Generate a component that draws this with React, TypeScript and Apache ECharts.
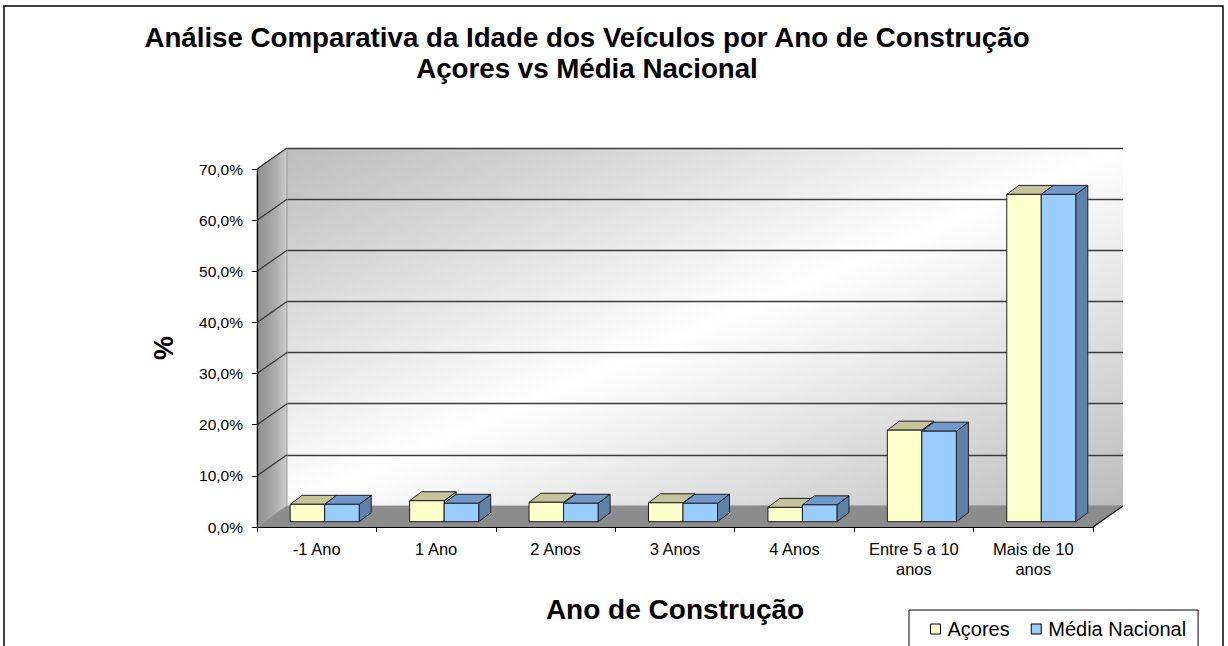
import React, { useEffect, useRef } from "react";
import * as echarts from "echarts";

const categories = ["-1 Ano", "1 Ano", "2 Anos", "3 Anos", "4 Anos", "Entre 5 a 10\nanos", "Mais de 10\nanos"];
const acores = [3.4, 4.1, 3.8, 3.7, 2.8, 17.9, 64.0];
const mediaNacional = [3.4, 3.6, 3.6, 3.6, 3.3, 17.7, 64.0];
const yTicks = [0, 10, 20, 30, 40, 50, 60, 70];
const seriesNames = ["Açores", "Média Nacional"];

const FONT = "'Liberation Sans', Arial, sans-serif";
// 3D projection helpers (layout)
const DEPTH_DX = 30;
const DEPTH_DY = -21;
const PLANE_DX = 8;
const PLANE_DY = -5.3;
const BAR_DX = 12;
const BAR_DY = -9;
const EDGE = "#1e1e1e";

const palettes = [
  { front: "#FFFFCC", top: "#C4C39B", side: "#A3A27F" },
  { front: "#99CCFF", top: "#7099C9", side: "#5F80A8" },
];

function barRenderer(sIdx: number) {
  const pal = palettes[sIdx];
  return (params: any, api: any) => {
    const i = api.value(0);
    const v = api.value(1);
    const base = api.coord([i, 0]);
    const topP = api.coord([i, v]);
    const band = api.size([1, 0])[0];
    const bw = band * 0.289;
    const cx = base[0] + PLANE_DX;
    const xl = cx - bw + sIdx * bw;
    const xr = xl + bw;
    const yb = base[1] + PLANE_DY;
    const yt = topP[1] + PLANE_DY;
    const st = { stroke: EDGE, lineWidth: 1 };
    return {
      type: "group",
      children: [
        {
          type: "polygon",
          shape: { points: [[xr, yt], [xr + BAR_DX, yt + BAR_DY], [xr + BAR_DX, yb + BAR_DY], [xr, yb]] },
          style: { fill: pal.side, ...st },
        },
        {
          type: "polygon",
          shape: { points: [[xl, yt], [xl + BAR_DX, yt + BAR_DY], [xr + BAR_DX, yt + BAR_DY], [xr, yt]] },
          style: { fill: pal.top, ...st },
        },
        {
          type: "rect",
          shape: { x: xl, y: yt, width: bw, height: yb - yt },
          style: { fill: pal.front, ...st },
        },
      ],
    };
  };
}

function frameRenderer(params: any, api: any) {
  const cs = params.coordSys;
  const v = api.value(0);
  const y = api.coord([0, v])[1];
  const x0 = cs.x;
  const children: any[] = [];
  if (params.dataIndex === 0) {
    const yTop = cs.y;
    const yBot = cs.y + cs.height;
    children.push({
      type: "polygon",
      shape: { points: [[x0, yTop], [x0 + DEPTH_DX, yTop + DEPTH_DY], [x0 + DEPTH_DX, yBot + DEPTH_DY], [x0, yBot]] },
      style: {
        fill: new echarts.graphic.LinearGradient(0, 0, 1, 0, [
          { offset: 0, color: "#8e8e8e" },
          { offset: 0.6, color: "#ababab" },
          { offset: 1, color: "#cdcdcd" },
        ]),
        stroke: "#9a9a9a",
        lineWidth: 1,
      },
    });
    children.push({
      type: "polygon",
      shape: {
        points: [
          [x0, yBot],
          [x0 + DEPTH_DX, yBot + DEPTH_DY],
          [x0 + cs.width + DEPTH_DX, yBot + DEPTH_DY],
          [x0 + cs.width, yBot],
        ],
      },
      style: { fill: "#8c8c8c", stroke: "none" },
    });
    children.push({
      type: "line",
      shape: { x1: x0 + cs.width, y1: yBot, x2: x0 + cs.width + DEPTH_DX, y2: yBot + DEPTH_DY },
      style: { stroke: "#111", lineWidth: 1.2 },
    });
  } else {
    children.push({
      type: "line",
      shape: { x1: x0, y1: y, x2: x0 + DEPTH_DX, y2: y + DEPTH_DY },
      style: { stroke: "#333", lineWidth: 1.2 },
    });
  }
  return { type: "group", children };
}

export default function App() {
  const ref = useRef<HTMLDivElement>(null);
  useEffect(() => {
    if (!ref.current) return;
    const chart = echarts.init(ref.current, undefined, { renderer: "svg" });
    const front = { left: 257, top: 169, width: 836, height: 358 };
    chart.setOption({
      animation: false,
      backgroundColor: "#ffffff",
      textStyle: { fontFamily: FONT },
      title: {
        text: "Análise Comparativa da Idade dos Veículos por Ano de Construção\nAçores vs Média Nacional",
        left: 587,
        textAlign: "center",
        top: 22,
        padding: 0,
        textStyle: { fontFamily: FONT, fontSize: 27.7, fontWeight: "bold", lineHeight: 31, color: "#000" },
      },
      legend: {
        left: 909,
        top: 610,
        orient: "horizontal",
        padding: [9, 12, 9, 21],
        borderColor: "#000",
        borderWidth: 1,
        backgroundColor: "#fff",
        itemWidth: 10,
        itemHeight: 10,
        itemGap: 21,
        icon: "rect",
        textStyle: { fontFamily: FONT, fontSize: 20, color: "#000", padding: [0, 0, 0, 2] },
        data: [
          { name: seriesNames[0], itemStyle: { color: palettes[0].front, borderColor: "#000", borderWidth: 1 } },
          { name: seriesNames[1], itemStyle: { color: palettes[1].front, borderColor: "#000", borderWidth: 1 } },
        ],
      },
      grid: [
        { ...front },
        {
          left: front.left + DEPTH_DX,
          top: front.top + DEPTH_DY,
          width: front.width,
          height: front.height,
          show: true,
          borderWidth: 0,
          backgroundColor: new echarts.graphic.LinearGradient(0, 0, 1, 1, [
            { offset: 0, color: "#bdbdbd" },
            { offset: 0.5, color: "#ffffff" },
            { offset: 1, color: "#bcbcbc" },
          ]),
        },
      ],
      xAxis: [
        {
          type: "category",
          gridIndex: 0,
          data: categories,
          axisLine: { lineStyle: { color: "#000", width: 1.2 } },
          axisTick: { show: true, length: 5, lineStyle: { color: "#000" } },
          axisLabel: { color: "#000", fontFamily: FONT, fontSize: 16.5, lineHeight: 20, margin: 12, interval: 0 },
          name: "Ano de Construção",
          nameLocation: "middle",
          nameGap: 68,
          nameTextStyle: { fontFamily: FONT, fontSize: 28, fontWeight: "bold", color: "#000" },
          z: 10,
        },
        {
          type: "category",
          gridIndex: 1,
          data: categories,
          show: false,
        },
      ],
      yAxis: [
        {
          type: "value",
          gridIndex: 0,
          min: 0,
          max: 70,
          interval: 10,
          axisLine: { show: true, lineStyle: { color: "#000", width: 1.2 } },
          axisTick: { show: true, length: 5, lineStyle: { color: "#000" } },
          splitLine: { show: false },
          axisLabel: {
            color: "#000",
            fontFamily: FONT,
            fontSize: 15.5,
            margin: 14,
            formatter: (v: number) => v.toFixed(1).replace(".", ",") + "%",
          },
          name: "%",
          nameLocation: "middle",
          nameRotate: 90,
          nameGap: 80,
          nameTextStyle: { fontFamily: FONT, fontSize: 27, fontWeight: "bold", color: "#000" },
          z: 10,
        },
        {
          type: "value",
          gridIndex: 1,
          min: 0,
          max: 70,
          interval: 10,
          axisLine: { show: false },
          axisTick: { show: false },
          axisLabel: { show: false },
          splitLine: { show: true, lineStyle: { color: "#3c3c3c", width: 1.3 } },
        },
      ],
      series: [
        {
          type: "custom",
          name: "frame",
          xAxisIndex: 0,
          yAxisIndex: 0,
          silent: true,
          data: yTicks.map((t) => [t]),
          encode: { y: 0 },
          renderItem: frameRenderer,
          z: 1,
        },
        {
          type: "custom",
          name: seriesNames[0],
          xAxisIndex: 0,
          yAxisIndex: 0,
          itemStyle: { color: palettes[0].front },
          data: acores.map((v, i) => [i, v]),
          encode: { x: 0, y: 1 },
          renderItem: barRenderer(0),
          z: 3,
        },
        {
          type: "custom",
          name: seriesNames[1],
          xAxisIndex: 0,
          yAxisIndex: 0,
          itemStyle: { color: palettes[1].front },
          data: mediaNacional.map((v, i) => [i, v]),
          encode: { x: 0, y: 1 },
          renderItem: barRenderer(1),
          z: 4,
        },
      ],
      graphic: [
        {
          type: "rect",
          silent: true,
          z: 100,
          shape: { x: 4, y: 6, width: 1219, height: 700 },
          style: { fill: "none", stroke: "#000", lineWidth: 1.5 },
        },
      ],
    });
    return () => chart.dispose();
  }, []);
  return (
    <div
      ref={ref}
      style={{ position: "fixed", left: 0, top: 0, width: 1228, height: 646, background: "#fff" }}
    />
  );
}
